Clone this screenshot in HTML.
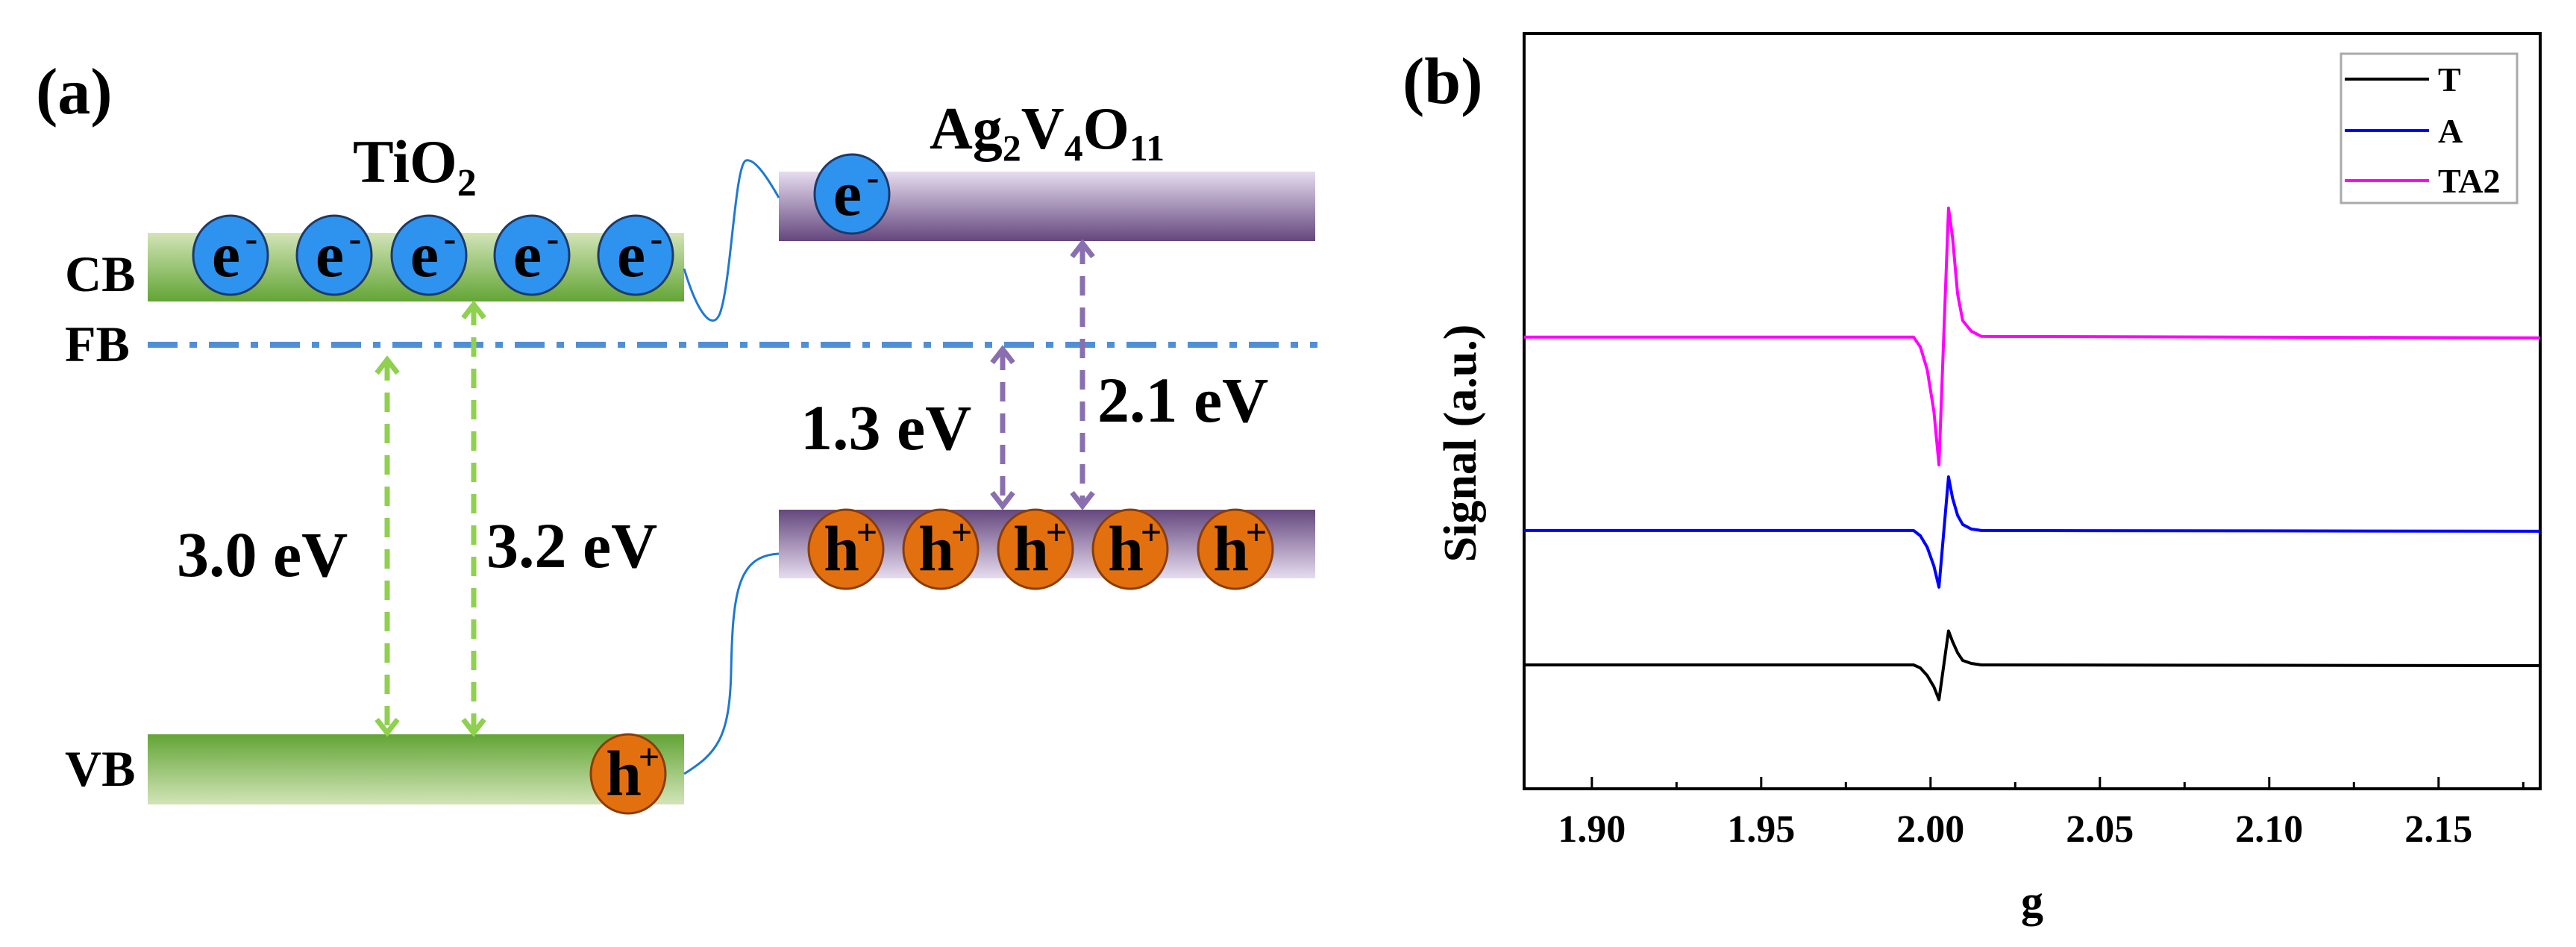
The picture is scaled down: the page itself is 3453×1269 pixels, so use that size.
<!DOCTYPE html>
<html><head><meta charset="utf-8"><style>
html,body{margin:0;padding:0;background:#fff}
svg{display:block}
text{font-family:"Liberation Serif",serif;font-weight:bold}
</style></head><body>
<svg id="fig" width="3453" height="1269" viewBox="0 0 3453 1269" xmlns="http://www.w3.org/2000/svg">
<defs>
<linearGradient id="gTop" x1="0" y1="0" x2="0" y2="1"><stop offset="0" stop-color="#d3e4b8"/><stop offset="1" stop-color="#62a535"/></linearGradient>
<linearGradient id="gBot" x1="0" y1="0" x2="0" y2="1"><stop offset="0" stop-color="#62a535"/><stop offset="1" stop-color="#d3e4b8"/></linearGradient>
<linearGradient id="pTop" x1="0" y1="0" x2="0" y2="1"><stop offset="0" stop-color="#e6dcef"/><stop offset="1" stop-color="#65477e"/></linearGradient>
<linearGradient id="pBot" x1="0" y1="0" x2="0" y2="1"><stop offset="0" stop-color="#65477e"/><stop offset="1" stop-color="#e6dcef"/></linearGradient>
</defs>
<g>
<text x="48" y="152" font-size="88">(a)</text>
<text x="473" y="244" font-size="82">TiO<tspan font-size="52" dy="18">2</tspan></text>
<text x="1246" y="199" font-size="80">Ag<tspan font-size="50" dy="16">2</tspan><tspan dy="-16">V</tspan><tspan font-size="50" dy="16">4</tspan><tspan dy="-16">O</tspan><tspan font-size="50" dy="16">11</tspan></text>
<rect x="198" y="312" width="719" height="92" fill="url(#gTop)"/>
<rect x="198" y="984" width="719" height="94" fill="url(#gBot)"/>
<rect x="1044" y="230" width="719" height="93" fill="url(#pTop)"/>
<rect x="1044" y="683" width="719" height="92" fill="url(#pBot)"/>
<line x1="198" y1="462" x2="1766" y2="462" stroke="#4f8fd6" stroke-width="8" stroke-dasharray="40,16,10,16"/>
<text x="87" y="390" font-size="68">CB</text>
<text x="87" y="484" font-size="68">FB</text>
<text x="87" y="1053" font-size="68">VB</text>
<path d="M917 360 C935 420,955 445,965 420 C980 380,985 220,1000 215 C1012 212,1030 240,1044 265" fill="none" stroke="#1f78d1" stroke-width="3"/>
<path d="M917 1037 C960 1010,978 990,980 900 C982 790,990 745,1044 742" fill="none" stroke="#1f78d1" stroke-width="3"/>
<g stroke="#8fd14f" stroke-width="7" fill="none">
<line x1="519" y1="484" x2="519" y2="980" stroke-dasharray="26,16"/>
<polyline points="505,500 519,482 533,500"/><polyline points="505,964 519,982 533,964"/>
<line x1="635" y1="410" x2="635" y2="980" stroke-dasharray="26,16"/>
<polyline points="621,426 635,408 649,426"/><polyline points="621,964 635,982 649,964"/>
</g>
<g stroke="#8a6fb0" stroke-width="7" fill="none">
<line x1="1344" y1="470" x2="1344" y2="676" stroke-dasharray="26,16"/>
<polyline points="1330,486 1344,468 1358,486"/><polyline points="1330,660 1344,678 1358,660"/>
<line x1="1451" y1="328" x2="1451" y2="676" stroke-dasharray="26,16"/>
<polyline points="1437,344 1451,326 1465,344"/><polyline points="1437,660 1451,678 1465,660"/>
</g>
<text x="237" y="772" font-size="86">3.0 eV</text>
<text x="652" y="760" font-size="86">3.2 eV</text>
<text x="1073" y="602" font-size="86">1.3 eV</text>
<text x="1471" y="565" font-size="86">2.1 eV</text>
<g id="carriers"></g>
</g>
<g>
<text x="1880" y="138" font-size="88">(b)</text>
<g id="chart"></g>
</g>
</svg>
<script>
// Panel (b) EPR data
const gValues = [1.88, 1.995, 1.997, 1.999, 2.001, 2.0025, 2.0053, 2.0065, 2.008, 2.0095, 2.012, 2.015, 2.18];
const seriesT = [1.64, 1.64, 1.60, 1.50, 1.35, 1.18, 2.09, 1.95, 1.80, 1.70, 1.66, 1.64, 1.63];
const seriesA = [3.42, 3.42, 3.35, 3.20, 2.95, 2.67, 4.13, 3.85, 3.62, 3.50, 3.44, 3.42, 3.41];
const seriesTA2 = [5.98, 5.98, 5.85, 5.55, 5.00, 4.29, 7.69, 7.30, 6.55, 6.20, 6.06, 5.99, 5.97];
const seriesNames = ["T", "A", "TA2"];
const seriesColors = ["#000000", "#0000ff", "#ff00ff"];
const xTicks = [1.90, 1.95, 2.00, 2.05, 2.10, 2.15];
const xTickLabels = ["1.90", "1.95", "2.00", "2.05", "2.10", "2.15"];
const xMinorTicks = [1.925, 1.975, 2.025, 2.075, 2.125, 2.175];
const xDomain = [1.88, 2.18];
const yDomain = [0, 10];

const NS = "http://www.w3.org/2000/svg";
const L = 2043, R = 3405, T = 45, B = 1057;
const xs = g => L + (g - xDomain[0]) / (xDomain[1] - xDomain[0]) * (R - L);
const ys = v => B - (v - yDomain[0]) / (yDomain[1] - yDomain[0]) * (B - T);
function mk(tag, attrs, parent) {
  const e = document.createElementNS(NS, tag);
  for (const k in attrs) e.setAttribute(k, attrs[k]);
  parent.appendChild(e);
  return e;
}
const chart = document.getElementById("chart");
const frame = mk("rect", {x: L, y: T, width: R - L, height: B - T, fill: "none", stroke: "#000", "stroke-width": 4}, chart);


xTicks.forEach((t, i) => {
  const ln = mk("line", {x1: xs(t), x2: xs(t), y1: B, y2: B - 16, stroke: "#000", "stroke-width": 3}, chart);
  
  
  const tx = mk("text", {x: xs(t), y: 1128, "font-size": 52, "text-anchor": "middle"}, chart);
  tx.textContent = xTickLabels[i];
  
  
});
xMinorTicks.forEach(t => {
  const ln = mk("line", {x1: xs(t), x2: xs(t), y1: B, y2: B - 9, stroke: "#000", "stroke-width": 3}, chart);
  
  
});
const xt = mk("text", {x: (L + R) / 2, y: 1228, "font-size": 60, "text-anchor": "middle"}, chart);
xt.textContent = "g";


const yt = mk("text", {x: 0, y: 0, "font-size": 62, "text-anchor": "middle", transform: "translate(1978,594) rotate(-90)"}, chart);
yt.textContent = "Signal (a.u.)";


[seriesT, seriesA, seriesTA2].forEach((s, i) => {
  const pts = gValues.map((g, j) => xs(g).toFixed(1) + "," + ys(s[j]).toFixed(1)).join(" ");
  const pl = mk("polyline", {points: pts, fill: "none", stroke: seriesColors[i], "stroke-width": 4, "stroke-linejoin": "round"}, chart);
  
  
});
const lg = mk("g", {}, chart);


mk("rect", {x: 3138, y: 72, width: 236, height: 200, fill: "#fff", stroke: "#aaa", "stroke-width": 3}, lg);
const ly = [106, 175, 242];
seriesNames.forEach((n, i) => {
  const ln = mk("line", {x1: 3143, x2: 3256, y1: ly[i], y2: ly[i], stroke: seriesColors[i], "stroke-width": 4}, lg);
  
  
  const tx = mk("text", {x: 3268, y: ly[i] + 16, "font-size": 46}, lg);
  tx.textContent = n;
  
  
});

// Panel (a) carriers
const carriers = document.getElementById("carriers");
const electronX = [309, 448, 575, 713, 852, 1142];
const electronY = [342, 342, 342, 342, 342, 260];
const holeX = [1134, 1261, 1388, 1515, 1656, 842];
const holeY = [736, 736, 736, 736, 736, 1037];
function carrier(cx, cy, fill, stroke, letter, sup, name) {
  const g = mk("g", {}, carriers);
  
  
  mk("ellipse", {cx: cx, cy: cy, rx: 50, ry: 53, fill: fill, stroke: stroke, "stroke-width": 3}, g);
  const t = mk("text", {x: cx - 6, y: cy + 28, "font-size": 86, "text-anchor": "middle"}, g);
  t.textContent = letter;
  const s = mk("text", {x: cx + 28, y: cy - 6, "font-size": 50, "text-anchor": "middle"}, g);
  s.textContent = sup;
}
electronX.forEach((x, i) => carrier(x, electronY[i], "#2d93ef", "#1d3a6a", "e", "-", "electron"));
holeX.forEach((x, i) => carrier(x, holeY[i], "#e3700f", "#8a3d06", "h", "+", "hole"));
</script>
</body></html>
